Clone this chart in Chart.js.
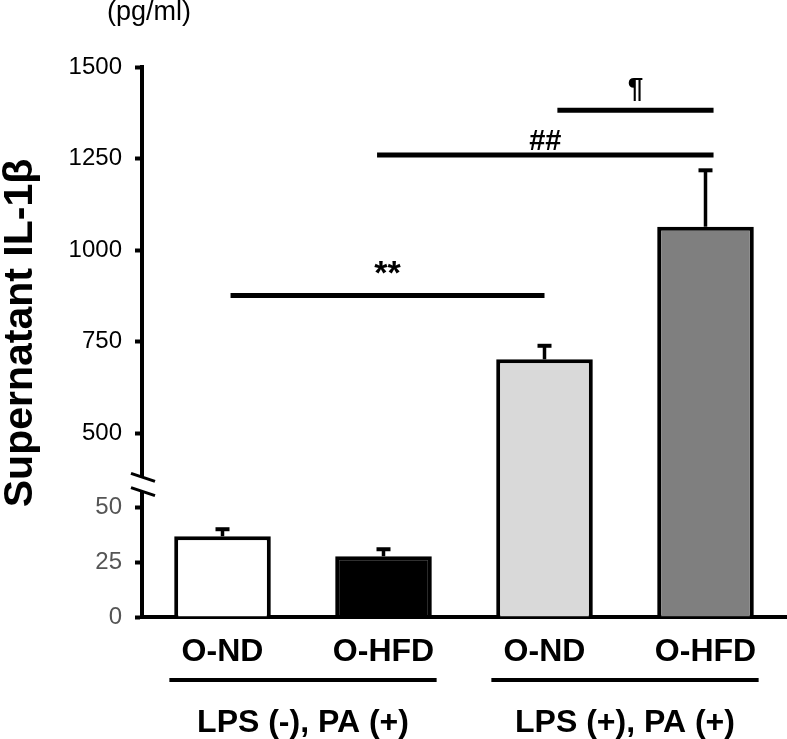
<!DOCTYPE html>
<html>
<head>
<meta charset="utf-8">
<title>Supernatant IL-1β</title>
<script src="https://cdn.jsdelivr.net/npm/chart.js@4.4.0/dist/chart.umd.min.js"></script>
<style>
  html, body { margin: 0; padding: 0; background: #fff; }
  #wrap { width: 787px; height: 739px; position: relative; }
</style>
</head>
<body>
<div id="wrap"><canvas id="il1b-chart"></canvas></div>
<script>
// data
const categories = ['O-ND', 'O-HFD', 'O-ND', 'O-HFD'];
const meanValues = [36.7, 27.6, 702, 1064];
const errorValues = [3.2, 3.2, 37, 154];
const barColors = ['#ffffff', '#000000', '#d9d9d9', '#7f7f7f'];

const groupLabels = ['LPS (-), PA (+)', 'LPS (+), PA (+)'];
const groupFirst = [0, 2];
const groupLast = [1, 3];

const lowTicks = [0, 25, 50];
const highTicks = [500, 750, 1000, 1250, 1500];

// significance bars: label, from/to category, height in pg/ml
const sigLabels = ['**', '##', '¶'];
const sigFrom = [0.05, 0.96, 2.08];
const sigTo = [2, 3.05, 3.05];
const sigLevels = [876, 1260, 1382];

const yTitle = 'Supernatant IL-1β';
const unitLabel = '(pg/ml)';

const FONT = "'Liberation Sans', Arial, sans-serif";

// broken y axis: 0..57 at the bottom, 380..1500 above the break
const scaleBreak = { lowMax: 57, highMin: 380, lowShare: 0.228, highStart: 0.254 };

class BrokenLinearScale extends Chart.LinearScale {
  buildTicks() {
    return lowTicks.concat(highTicks).map(v => ({ value: v }));
  }
  valueToDecimal(v) {
    const b = scaleBreak;
    if (v <= b.lowMax) return v / b.lowMax * b.lowShare;
    return b.highStart + (v - b.highMin) / (this.max - b.highMin) * (1 - b.highStart);
  }
  getPixelForValue(v) {
    if (v === null || v === undefined || isNaN(v)) return NaN;
    return this.getPixelForDecimal(this.valueToDecimal(v));
  }
  getValueForPixel(px) {
    const b = scaleBreak;
    const d = this.getDecimalForPixel(px);
    if (d <= b.lowShare) return d / b.lowShare * b.lowMax;
    return b.highMin + (d - b.highStart) / (1 - b.highStart) * (this.max - b.highMin);
  }
}
BrokenLinearScale.id = 'brokenLinear';
Chart.register(BrokenLinearScale);

const errorBarPlugin = {
  id: 'errorBars',
  afterDatasetsDraw(chart) {
    const { ctx } = chart;
    const y = chart.scales.y;
    const bars = chart.getDatasetMeta(0).data;
    ctx.save();
    ctx.strokeStyle = '#000';
    bars.forEach((bar, i) => {
      const top = y.getPixelForValue(meanValues[i] + errorValues[i]);
      ctx.lineWidth = 3.5;
      ctx.beginPath();
      ctx.moveTo(bar.x, bar.y);
      ctx.lineTo(bar.x, top);
      ctx.stroke();
      ctx.lineWidth = 4;
      ctx.beginPath();
      ctx.moveTo(bar.x - 7, top);
      ctx.lineTo(bar.x + 7, top);
      ctx.stroke();
    });
    ctx.restore();
  }
};

const axisBreakPlugin = {
  id: 'axisBreak',
  afterDraw(chart) {
    const { ctx, chartArea } = chart;
    const y = chart.scales.y;
    const gapBottom = y.getPixelForDecimal(scaleBreak.lowShare);
    const gapTop = y.getPixelForDecimal(scaleBreak.highStart);
    const x = chartArea.left;
    ctx.save();
    ctx.fillStyle = '#fff';
    ctx.fillRect(x - 4, gapTop, 8, gapBottom - gapTop);
    ctx.strokeStyle = '#000';
    ctx.lineWidth = 3;
    [gapTop, gapBottom].forEach(py => {
      ctx.beginPath();
      ctx.moveTo(x - 11, py - 4);
      ctx.lineTo(x + 13, py + 4);
      ctx.stroke();
    });
    ctx.restore();
  }
};

const sigStyle = {
  '**': { size: 34, lift: 12 },
  '##': { size: 29, lift: 5 },
  '¶': { size: 28, lift: 13 }
};

const annotationPlugin = {
  id: 'annotations',
  afterDraw(chart) {
    const { ctx, chartArea } = chart;
    const x = chart.scales.x;
    const y = chart.scales.y;
    const step = x.getPixelForValue(1) - x.getPixelForValue(0);
    ctx.save();
    ctx.fillStyle = '#000';
    ctx.strokeStyle = '#000';
    ctx.textAlign = 'center';
    ctx.textBaseline = 'alphabetic';

    // significance brackets
    sigLabels.forEach((label, i) => {
      const x1 = x.getPixelForValue(sigFrom[i]);
      const x2 = x.getPixelForValue(sigTo[i]);
      const py = y.getPixelForValue(sigLevels[i]);
      ctx.lineWidth = 5;
      ctx.beginPath();
      ctx.moveTo(x1, py);
      ctx.lineTo(x2, py);
      ctx.stroke();
      const st = sigStyle[label];
      ctx.font = 'bold ' + st.size + 'px ' + FONT;
      ctx.fillText(label, (x1 + x2) / 2, py - st.lift);
    });

    // treatment groups under the category labels
    groupLabels.forEach((label, i) => {
      const x1 = x.getPixelForValue(groupFirst[i]) - step * 0.33;
      const x2 = x.getPixelForValue(groupLast[i]) + step * 0.33;
      const lineY = chartArea.bottom + 63;
      ctx.lineWidth = 4;
      ctx.beginPath();
      ctx.moveTo(x1, lineY);
      ctx.lineTo(x2, lineY);
      ctx.stroke();
      ctx.font = 'bold 32px ' + FONT;
      ctx.fillText(label, (x1 + x2) / 2, lineY + 52);
    });

    // unit above the y axis
    ctx.font = '27px ' + FONT;
    ctx.fillText(unitLabel, chartArea.left + 7, 20);

    // y axis title, rotated
    ctx.save();
    ctx.translate(21, chartArea.top + 266);
    ctx.rotate(-Math.PI / 2);
    ctx.textBaseline = 'middle';
    ctx.font = 'bold 41px ' + FONT;
    ctx.fillText(yTitle, 0, 0);
    ctx.restore();

    ctx.restore();
  }
};

new Chart(document.getElementById('il1b-chart'), {
  type: 'bar',
  data: {
    labels: categories,
    datasets: [{
      data: meanValues,
      backgroundColor: barColors,
      borderColor: '#000',
      borderWidth: 4,
      borderSkipped: 'start',
      barPercentage: 0.6,
      categoryPercentage: 1
    }]
  },
  options: {
    responsive: true,
    maintainAspectRatio: false,
    animation: false,
    devicePixelRatio: 1,
    layout: { padding: { left: 0, right: 1, top: 67, bottom: 72 } },
    plugins: {
      legend: { display: false },
      tooltip: { enabled: false }
    },
    scales: {
      x: {
        grid: { display: false, drawTicks: false },
        border: { display: true, color: '#000', width: 4 },
        ticks: {
          color: '#000',
          padding: 16,
          font: { family: FONT, size: 32, weight: 'bold' }
        },
        afterFit: s => { s.height = 50; }
      },
      y: {
        type: 'brokenLinear',
        min: 0,
        max: 1500,
        grid: { drawOnChartArea: false, drawTicks: true, tickLength: 7, tickWidth: 4, tickColor: '#000' },
        border: { display: true, color: '#000', width: 4 },
        ticks: {
          autoSkip: false,
          padding: 13,
          color: c => (c.tick && c.tick.value >= 500 ? '#000' : '#555'),
          font: { family: FONT, size: 24 },
          callback: v => String(v)
        },
        afterFit: s => { s.width = 142; }
      }
    }
  },
  plugins: [errorBarPlugin, axisBreakPlugin, annotationPlugin]
});
</script>
</body>
</html>
